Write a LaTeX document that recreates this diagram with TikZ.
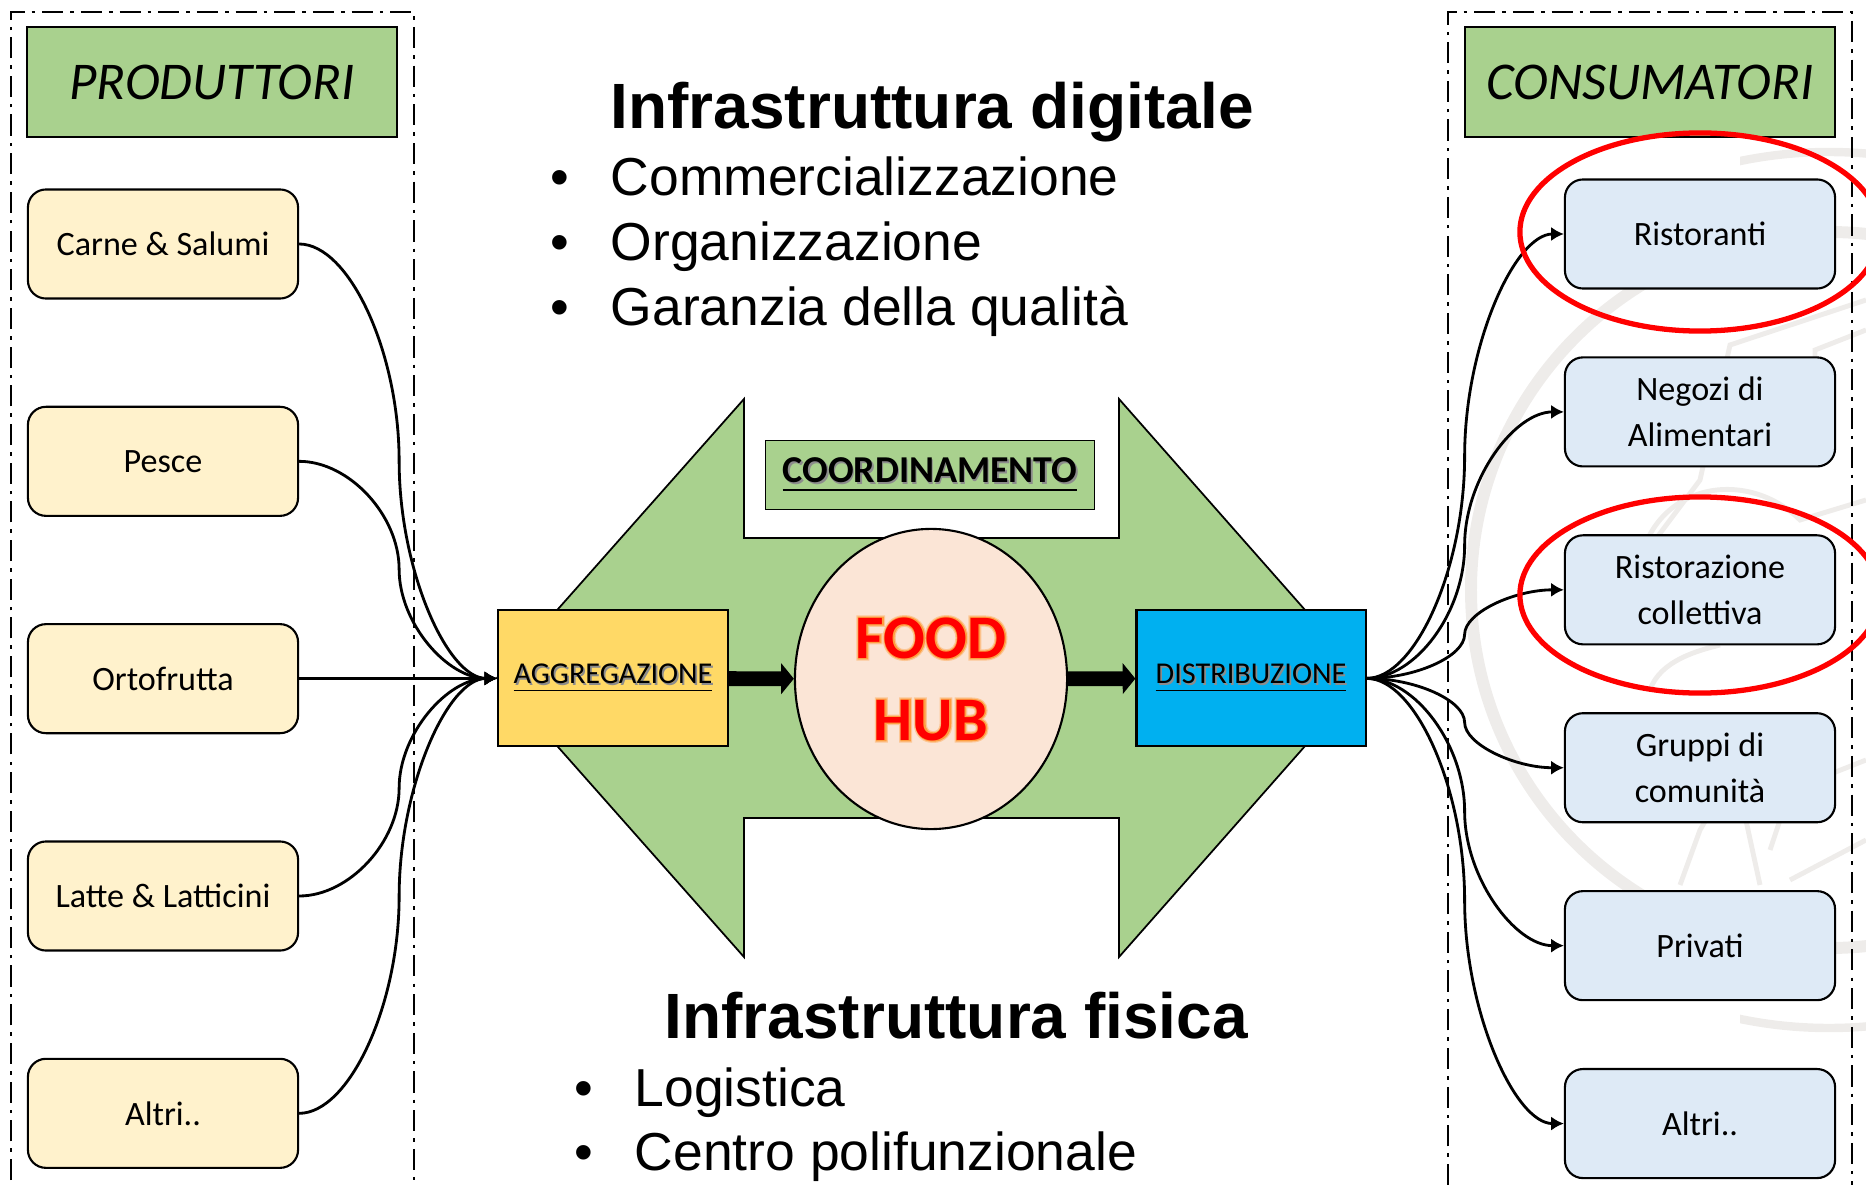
\documentclass[tikz,border=0pt]{standalone}
\usepackage{fontspec}
\setmainfont{Carlito}
\newfontfamily\arialfont{Liberation Sans}
\usetikzlibrary{positioning, arrows.meta, shapes.geometric}
\definecolor{hubgreen}{HTML}{A9D18E}
\definecolor{prodfill}{HTML}{FFF2CC}
\definecolor{consfill}{HTML}{DEEAF6}
\definecolor{aggfill}{HTML}{FFD966}
\definecolor{distfill}{HTML}{00B0F0}
\definecolor{hubfill}{HTML}{FBE5D6}
\definecolor{sealgray}{HTML}{EEECEA}
\newcommand{\glowtxt}[1]{\rlap{\addfontfeature{FakeBold=8}\color{hubfill!70!orange}#1}\rlap{\addfontfeature{FakeBold=4}\color{hubfill!30!orange}#1}\textcolor{red}{#1}}
\newcommand{\shadtxt}[1]{\raisebox{-1.7pt}{\underline{\rlap{\kern.5pt\raisebox{-.5pt}{\color{black!45}#1}}#1}}}
\tikzset{
header/.style={shape=rectangle, minimum width=3.7cm, minimum height=1.1cm, inner sep=0, draw, fill=hubgreen, font=\fontsize{15.1}{16}\selectfont\itshape},
prod/.style={shape=rectangle, rounded corners=.18cm, minimum width=2.7cm, minimum height=1.09cm, inner sep=0, draw, line width=.6pt, fill=prodfill, align=center, font=\fontsize{9.7}{13.1}\selectfont},
cons/.style={prod, fill=consfill},
stage/.style={shape=rectangle, minimum width=2.29cm, minimum height=1.36cm, inner sep=0, draw, line width=.6pt, font=\fontsize{8.6}{10}\selectfont},
sealine/.style={draw=sealgray, line width=1.4pt},
title/.style={anchor=base west, inner sep=0, font=\arialfont\bfseries\fontsize{18.2}{20}\selectfont},
item/.style={anchor=base west, inner sep=0, font=\arialfont\fontsize{15.2}{18}\selectfont},
link/.style={draw, line width=.8pt, -{Latex[length=3.6pt, width=4pt]}},
thick link/.style={draw, line width=4.2pt, -{Triangle[length=3.6pt, width=8.6pt]}},
ring/.style={draw=red, line width=1.5pt}}

\begin{document}
\begin{tikzpicture}[x=.01cm, y=-.01cm, node distance=1.061cm]
\useasboundingbox (0,0) rectangle (1866,1185);
\begin{scope}
\clip (0,0) rectangle (1866,1185);
\draw [sealgray, line width=3.4pt] (1829,590) circle (358);
\begin{scope}
\clip (1740,0) rectangle (1866,1185);
\draw [sealgray, line width=2.4pt] (1829,590) circle (438);
\end{scope}
\draw [sealine] (1866,300) -- (1730,345) -- (1700,480) -- (1640,560);
\draw [sealine] (1640,560) .. controls (1660,480) and (1750,470) .. (1800,520) -- (1866,500);
\draw [sealine] (1650,690) .. controls (1660,660) and (1700,650) .. (1720,645);
\draw [sealine] (1680,885) -- (1700,830) -- (1735,770) -- (1760,885);
\draw [sealine] (1770,850) -- (1790,790) -- (1866,760);
\draw [sealine] (1790,880) -- (1866,840);
\draw [sealine] (1815,420) -- (1815,350) -- (1866,330);
\end{scope}
\draw [dash pattern=on 6pt off 2pt on 1pt off 2pt, line width=.5pt] (11,1180) -- (11,12) -- (414,12) -- (414,1180);
\draw [dash pattern=on 6pt off 2pt on 1pt off 2pt, line width=.5pt] (1448,1185) -- (1448,12) -- (1852,12) -- (1852,1185);
\node [header] (prodhead) at (212,82) {\raisebox{-.7pt}{PRODUTTORI}};
\node [header] (conshead) at (1650,82) {\raisebox{-.7pt}{CONSUMATORI}};

\path [fill=hubgreen, draw, line width=.5pt] (744,399) -- (744,538) -- (1119,538) -- (1119,399) -- (1365,678) -- (1119,957) -- (1119,818) -- (744,818) -- (744,957) -- (497,678) -- cycle;
\node [draw, line width=.5pt, fill=hubgreen, shape=rectangle, minimum width=3.29cm, minimum height=.69cm, inner sep=0, font=\bfseries\fontsize{10.8}{12}\selectfont] (coord) at (930,475) {\shadtxt{COORDINAMENTO}};
\node [stage, fill=aggfill] (agg) at (613,678.4) {\shadtxt{AGGREGAZIONE}};
\node [stage, fill=distfill] (dist) at (1251,678.4) {\shadtxt{DISTRIBUZIONE}};
\node [ellipse, minimum width=2.72cm, minimum height=3cm, inner sep=0, draw, line width=.6pt, fill=hubfill, align=center, font=\bfseries\fontsize{17.6}{23.3}\selectfont] (hub) at (931,679) {\glowtxt{FOOD}\\\glowtxt{HUB}};
\draw [thick link] (agg) -- (hub);
\draw [thick link] (hub) -- (dist);

\node [prod] (carne) at (163,244) {Carne \& Salumi};
\node [prod, below=of carne] (pesce) {Pesce};
\node [prod, below=of pesce] (orto) {Ortofrutta};
\node [prod, below=of orto] (latte) {Latte \& Latticini};
\node [prod, below=of latte] (altrip) {Altri..};

\node [cons] (rist) at (1700,234) {Ristoranti};
\node [cons, below=.667cm of rist] (negozi) {Negozi di\\Alimentari};
\node [cons, below=.667cm of negozi] (coll) {Ristorazione\\collettiva};
\node [cons, below=.667cm of coll] (gruppi) {Gruppi di\\comunità};
\node [cons, below=.667cm of gruppi] (priv) {Privati};
\node [cons, below=.667cm of priv] (altric) {Altri..};

\draw [link] (carne.east) .. controls +(50,0) and +(0,-109) .. ++(100,217) .. controls +(0,109) and +(-50,0) .. (agg.west);
\draw [link] (pesce.east) .. controls +(50,0) and +(0,-54) .. ++(100,108) .. controls +(0,54) and +(-50,0) .. (agg.west);
\draw [link] (orto) -- (agg);
\draw [link] (latte.east) .. controls +(50,0) and +(0,54) .. ++(100,-108) .. controls +(0,-54) and +(-50,0) .. (agg.west);
\draw [link] (altrip.east) .. controls +(50,0) and +(0,109) .. ++(100,-217) .. controls +(0,-109) and +(-50,0) .. (agg.west);

\draw [link] (dist.east) .. controls +(49,0) and +(0,111) .. ++(98,-222) .. controls +(0,-111) and +(-49,0) .. (rist.west);
\draw [link] (dist.east) .. controls +(49,0) and +(0,67) .. ++(98,-133) .. controls +(0,-67) and +(-49,0) .. (negozi.west);
\draw [link] (dist.east) .. controls +(49,0) and +(0,22) .. ++(98,-44) .. controls +(0,-22) and +(-49,0) .. (coll.west);
\draw [link] (dist.east) .. controls +(49,0) and +(0,-22) .. ++(98,44) .. controls +(0,22) and +(-49,0) .. (gruppi.west);
\draw [link] (dist.east) .. controls +(49,0) and +(0,-66) .. ++(98,133) .. controls +(0,66) and +(-49,0) .. (priv.west);
\draw [link] (dist.east) .. controls +(49,0) and +(0,-111) .. ++(98,222) .. controls +(0,111) and +(-49,0) .. (altric.west);

\node [draw=none, ellipse, minimum width=3.6cm, minimum height=1.98cm, inner sep=0, ring] (ringrist) at (1700,232) {};
\node [draw=none, ellipse, minimum width=3.6cm, minimum height=1.96cm, inner sep=0, ring] (ringcoll) at (1700,595) {};

\node [title] (digital) at (610,129) {Infrastruttura digitale};
\node [item] (comm) at (550,196) {\makebox[17.1pt][l]{•}Commercializzazione};
\node [item] (orga) at (550,261) {\makebox[17.1pt][l]{•}Organizzazione};
\node [item] (gara) at (550,325) {\makebox[17.1pt][l]{•}Garanzia della qualità};
\node [title] (fisica) at (664,1038) {Infrastruttura fisica};
\node [item] (logi) at (574,1106) {\makebox[17.1pt][l]{•}Logistica};
\node [item] (centro) at (574,1170) {\makebox[17.1pt][l]{•}Centro polifunzionale};
\end{tikzpicture}
\end{document}
